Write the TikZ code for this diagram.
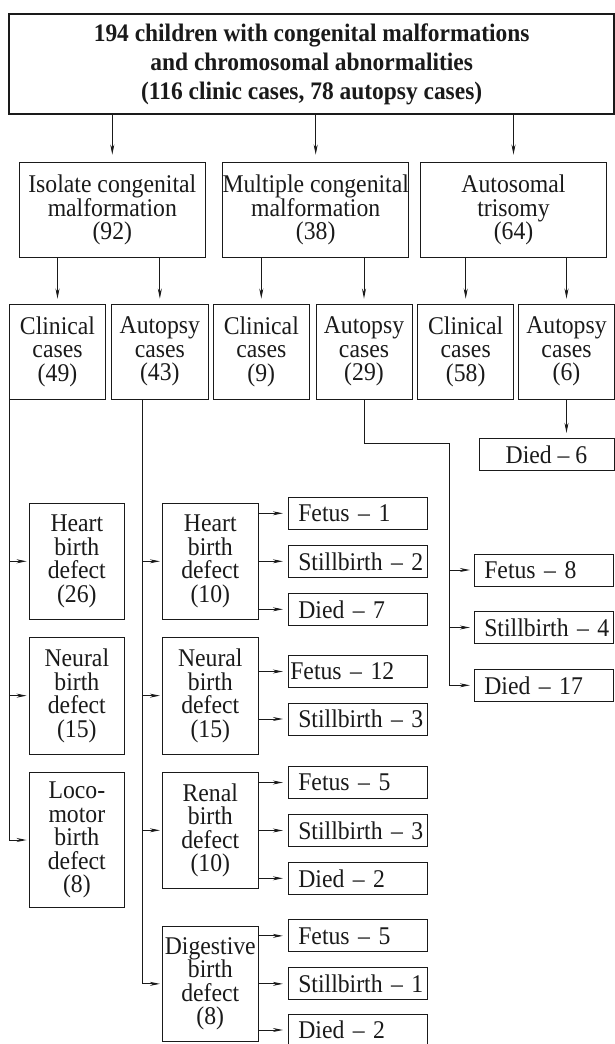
\documentclass[tikz,border=0pt]{standalone}
\usepackage{fontspec}
\setmainfont{Liberation Serif}[FakeStretch=0.93]
\usetikzlibrary{arrows.meta}
\definecolor{ink}{HTML}{1A1A1A}
\newcommand{\fsz}{\fontsize{25.5}{23.5}\selectfont}
\newcommand{\fszb}{\fontsize{25.2}{29}\selectfont\bfseries}
\begin{document}
\begin{tikzpicture}[x=1pt,y=-1pt,
  box/.style={draw=ink, text=ink, line width=0.9pt, inner sep=0pt, align=center, font=\fsz},
  sbox/.style={draw=ink, text=ink, line width=0.9pt, inner ysep=0pt, inner xsep=10pt, text width=118.7pt, align=left, minimum height=32pt, font=\fsz},
  rbox/.style={sbox, text width=119pt},
  arr/.style={draw=ink, line width=0.9pt, -{Stealth[length=10pt,width=4pt]}},
  ln/.style={draw=ink, line width=0.9pt},
]
\useasboundingbox (0,0) rectangle (615,1044);
\clip (0,0) rectangle (615,1044);
\fill[white] (0,0) rectangle (615,1044);

% top
\node[box, line width=2pt, font=\fszb, minimum width=604.7pt, minimum height=100pt] (tb) at (311.65,64)
  {194 children with congenital malformations\\and chromosomal abnormalities\\(116 clinic cases, 78 autopsy cases)};

% level 2
\node[box, minimum width=186pt, minimum height=94.6pt] (iso) at (112.3,210) {Isolate congenital\\malformation\\(92)};
\node[box, minimum width=186pt, minimum height=94.6pt] (mul) at (315.7,210) {Multiple congenital\\malformation\\(38)};
\node[box, minimum width=186.4pt, minimum height=94.6pt] (aut) at (513.5,210) {Autosomal\\trisomy\\(64)};

% level 3
\node[box, minimum width=96.4pt, minimum height=94.7pt] (c1) at (57.5,351.65) {Clinical\\cases\\(49)};
\node[box, minimum width=96.3pt, minimum height=94.7pt] (a1) at (159.85,351.65) {Autopsy\\cases\\(43)};
\node[box, minimum width=96pt, minimum height=94.7pt] (c2) at (261.3,351.65) {Clinical\\cases\\(9)};
\node[box, minimum width=96pt, minimum height=94.7pt] (a2) at (364,351.65) {Autopsy\\cases\\(29)};
\node[box, minimum width=96pt, minimum height=94.7pt] (c3) at (465.7,351.65) {Clinical\\cases\\(58)};
\node[box, minimum width=96pt, minimum height=94.7pt] (a3) at (566.5,351.65) {Autopsy\\cases\\(6)};

\node[box, minimum width=135pt, minimum height=32.4pt] (d6) at (546.5,454.5) {Died – 6};

% left column
\node[box, minimum width=95.7pt, minimum height=116pt] (h26) at (76.85,561.3) {Heart\\birth\\defect\\(26)};
\node[box, minimum width=95.7pt, minimum height=116.7pt] (n15a) at (76.85,695.65) {Neural\\birth\\defect\\(15)};
\node[box, minimum width=95.7pt, minimum height=135.4pt] (loco) at (76.85,840) {Loco-\\motor\\birth\\defect\\(8)};

% middle column
\node[box, minimum width=96pt, minimum height=116pt] (h10) at (210.3,561.3) {Heart\\birth\\defect\\(10)};
\node[box, minimum width=96pt, minimum height=116.7pt] (n15b) at (210.3,695.65) {Neural\\birth\\defect\\(15)};
\node[box, minimum width=96pt, minimum height=116pt] (ren) at (210.3,830.3) {Renal\\birth\\defect\\(10)};
\node[box, minimum width=96pt, minimum height=115.7pt] (dig) at (210.3,983.85) {Digestive\\birth\\defect\\(8)};

% outcome boxes
\node[sbox] (f1) at (357.65,513.3) {\mbox{Fetus – 1}};
\node[sbox] (s2) at (357.65,561.3) {\mbox{Stillbirth – 2}};
\node[sbox] (d7) at (357.65,609.3) {\mbox{Died – 7}};
\node[sbox, inner xsep=2pt, text width=134.7pt] (f12) at (357.65,671.5) {\mbox{Fetus – 12}};
\node[sbox] (s3a) at (357.65,719) {\mbox{Stillbirth – 3}};
\node[sbox] (f5a) at (357.65,782.5) {\mbox{Fetus – 5}};
\node[sbox] (s3b) at (357.65,830.5) {\mbox{Stillbirth – 3}};
\node[sbox] (d2a) at (357.65,878.3) {\mbox{Died – 2}};
\node[sbox] (f5b) at (357.65,935.85) {\mbox{Fetus – 5}};
\node[sbox] (s1) at (357.65,983.85) {\mbox{Stillbirth – 1}};
\node[sbox] (d2b) at (357.65,1030) {\mbox{Died – 2}};

\node[rbox] (f8) at (543.8,570) {\mbox{Fetus – 8}};
\node[rbox] (s4) at (543.8,627.5) {\mbox{Stillbirth – 4}};
\node[rbox] (d17) at (543.8,685.3) {\mbox{Died – 17}};

% connectors top
\draw[arr, shorten >=7.7pt] (tb.south -| iso.north) -- (iso.north);
\draw[arr, shorten >=7.7pt] (tb.south -| mul.north) -- (mul.north);
\draw[arr, shorten >=7.7pt] (tb.south -| aut.north) -- (aut.north);

\draw[arr, shorten >=5.3pt] (iso.south -| c1.north) -- (c1.north);
\draw[arr, shorten >=5.3pt] (iso.south -| a1.north) -- (a1.north);
\draw[arr, shorten >=5.3pt] (mul.south -| c2.north) -- (c2.north);
\draw[arr, shorten >=5.3pt] (mul.south -| a2.north) -- (a2.north);
\draw[arr, shorten >=5.3pt] (aut.south -| c3.north) -- (c3.north);
\draw[arr, shorten >=5.3pt] (aut.south -| a3.north) -- (a3.north);

\draw[arr, shorten >=5pt] (a3.south) -- (a3.south |- d6.north);

% left trunk
\draw[arr, shorten >=2pt] ([xshift=1pt]c1.south west) |- (h26.west);
\draw[arr, shorten >=2pt] ([xshift=1pt]c1.south west) |- (n15a.west);
\draw[arr, shorten >=2pt] ([xshift=1pt]c1.south west) |- (loco.west);

% middle trunk
\draw[arr, shorten >=2pt] ([xshift=31.6pt]a1.south west) |- (h10.west);
\draw[arr, shorten >=2pt] ([xshift=31.6pt]a1.south west) |- (n15b.west);
\draw[arr, shorten >=2pt] ([xshift=31.6pt]a1.south west) |- (ren.west);
\draw[arr, shorten >=2pt] ([xshift=31.6pt]a1.south west) |- (dig.west);

% outcomes
\draw[arr, shorten >=5pt] (h10.east |- f1.west) -- (f1.west);
\draw[arr, shorten >=5pt] (h10.east |- s2.west) -- (s2.west);
\draw[arr, shorten >=5pt] (h10.east |- d7.west) -- (d7.west);
\draw[arr, shorten >=5pt] (n15b.east |- f12.west) -- (f12.west);
\draw[arr, shorten >=5pt] (n15b.east |- s3a.west) -- (s3a.west);
\draw[arr, shorten >=5pt] (ren.east |- f5a.west) -- (f5a.west);
\draw[arr, shorten >=5pt] (ren.east |- s3b.west) -- (s3b.west);
\draw[arr, shorten >=5pt] (ren.east |- d2a.west) -- (d2a.west);
\draw[arr, shorten >=5pt] (dig.east |- f5b.west) -- (f5b.west);
\draw[arr, shorten >=5pt] (dig.east |- s1.west) -- (s1.west);
\draw[arr, shorten >=5pt] (dig.east |- d2b.west) -- (d2b.west);

% autopsy 29 branch
\coordinate (bend) at (449,443.3);
\draw[ln] (a2.south) |- (bend);
\draw[arr, shorten >=4pt] (bend) |- (f8.west);
\draw[arr, shorten >=4pt] (bend) |- (s4.west);
\draw[arr, shorten >=4pt] (bend) |- (d17.west);
\end{tikzpicture}
\end{document}
